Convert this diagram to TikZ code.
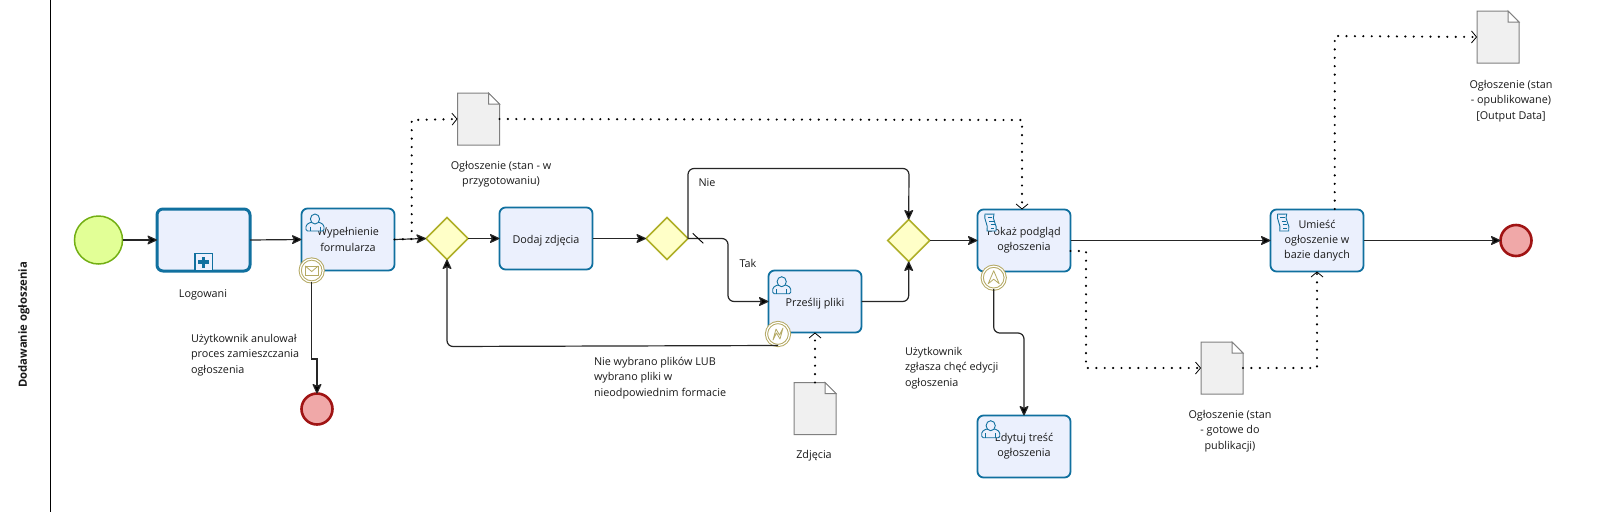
\documentclass[tikz,border=0pt]{standalone}
\usepackage{fontspec}
\setmainfont{Open Sans}
\usetikzlibrary{shapes.geometric,arrows.meta,calc}
\definecolor{taskfill}{HTML}{EBF0FD}
\definecolor{taskline}{HTML}{10709F}
\definecolor{startfill}{HTML}{E2FF96}
\definecolor{startline}{HTML}{73AF14}
\definecolor{gatefill}{HTML}{FFFFC8}
\definecolor{gateline}{HTML}{AFAF28}
\definecolor{endfill}{HTML}{F0A8A8}
\definecolor{endline}{HTML}{A01414}
\definecolor{bdline}{HTML}{B4A964}
\definecolor{docfill}{HTML}{F0F0F0}
\definecolor{docline}{HTML}{808080}
\tikzset{
  lbl/.style={font=\fontsize{10.8}{15.3}\selectfont,inner sep=0pt,outer sep=0pt,text=black!90},
  lblc/.style={lbl,align=center},
  lbll/.style={lbl,align=left,anchor=west},
  task/.style={draw=taskline,fill=taskfill,line width=1.8pt,rounded corners=6pt,minimum width=93pt,minimum height=62pt,inner sep=0pt,outer sep=0pt,align=center,font=\fontsize{10.8}{15.3}\selectfont,text=black!90,execute at begin node={\rule{0pt}{13.5pt}}},
  subproc/.style={task,line width=3pt,minimum height=62pt},
  startev/.style={circle,draw=startline,fill=startfill,line width=1.5pt,minimum size=48pt,inner sep=0pt,outer sep=0pt},
  endev/.style={circle,draw=endline,fill=endfill,line width=2.6pt,minimum size=31pt,inner sep=0pt,outer sep=0pt},
  gate/.style={diamond,aspect=1,draw=gateline,fill=gatefill,line width=1.6pt,minimum width=42pt,minimum height=42pt,inner sep=0pt,outer sep=0pt},
  bdev/.style={circle,draw=bdline,fill=white,line width=1pt,double=white,double distance=1.2pt,minimum size=23pt,inner sep=0pt,outer sep=0pt},
  docbox/.style={minimum width=42pt,minimum height=52pt,inner sep=0pt,outer sep=0pt},
  flow/.style={draw=black!85,line width=1.2pt,rounded corners=6pt,-{Stealth[length=11pt,width=10pt,inset=2.5pt,round=false,fill=black]}},
  assoc/.style={draw=black,line width=2.4pt,line cap=round,dash pattern=on 0pt off 8.4pt,-{Straight Barb[length=5pt,width=12pt,line width=.8pt,line cap=butt]}},
  icon/.style={draw=taskline,line width=.9pt,fill=taskfill},
  bdicon/.style={draw=bdline,line width=.8pt,fill=white},
}
\newcommand{\usericon}[2]{\begin{scope}[shift={(#1,#2)}]
  \path[icon,rounded corners=1.5pt] (0,17) -- (0,11) -- (5,8) -- (13,8) -- (18,11) -- (18,17) -- cycle;
  \draw[icon] (4,12.5) -- (4,17) (14,12.5) -- (14,17);
  \path[icon] (9,5) ellipse (4.6 and 5);
  \end{scope}}
\newcommand{\scripticon}[2]{\begin{scope}[shift={(#1,#2)}]
  \path[icon] (0,0) .. controls (3,1.2) and (6,-.8) .. (9,0) .. controls (6,5) and (13,11) .. (11,17) .. controls (8,18) and (5,16) .. (2,17) .. controls (4,11) and (-2,5) .. (0,0) -- cycle;
  \draw[taskline,line width=.8pt] (2.5,3.5)--(7,3.5) (4,7)--(8.5,7) (5.5,10.5)--(9.5,10.5) (5.5,14)--(9,14);
  \end{scope}}
\newcommand{\docshape}[1]{\path[draw=docline,fill=docfill,line width=1pt]
  (#1.north west) -- ($(#1.north east)+(-11,0)$) -- ($(#1.north east)+(0,11)$) -- (#1.south east) -- (#1.south west) -- cycle;
  \path[draw=docline,fill=white,line width=1pt] ($(#1.north east)+(-11,0)$) -- ($(#1.north east)+(-11,11)$) -- ($(#1.north east)+(0,11)$) -- cycle;}
\begin{document}
\begin{tikzpicture}[x=1pt,y=-1pt]
\useasboundingbox (0,0) rectangle (1598,512);
\fill[white] (0,0) rectangle (1598,512);
\coordinate (ptop) at (50.5,0);
\coordinate (pbot) at (50.5,512);
\draw[black,line width=1pt] (ptop) -- (pbot);
\node[lbl,rotate=90,font=\fontsize{11.3}{13}\bfseries] (pool) at (24,325) {Dodawanie ogłoszenia};

% events
\node[startev] (start) at (98.5,240) {};
\node[endev] (end1) at (317,409) {};
\node[endev] (end2) at (1516,240.5) {};

% tasks
\node[subproc] (sub) at (203.5,240) {};
\node[task] (wyp) at (348,239.5) {Wypełnienie\\formularza};
\node[task] (dodaj) at (546,238.5) {Dodaj zdjęcia};
\node[task] (przes) at (815,301.5) {Prześlij pliki};
\node[task] (pokaz) at (1024,240.5) {Pokaż podgląd\\ogłoszenia};
\node[task] (umiesc) at (1317,240.5) {Umieść\\ogłoszenie w\\bazie danych};
\node[task] (edytuj) at (1024,446.5) {Edytuj treść\\ogłoszenia};

% gateways
\node[gate] (g1) at (447,238.5) {};
\node[gate] (g2) at (667,238.5) {};
\node[gate] (g3) at (908.7,240.5) {};

% data objects
\node[docbox] (d1) at (478.5,119) {};
\node[docbox] (d2) at (1498,37) {};
\node[docbox] (d3) at (815,408.5) {};
\node[docbox] (d4) at (1222,368) {};
\docshape{d1}\docshape{d2}\docshape{d3}\docshape{d4}

% sequence flows
\coordinate (r1) at (909,168.5);
\coordinate (r0) at (688,168.5);
\coordinate (t1) at (728,238.5);
\coordinate (t2) at (728,301.5);
\coordinate (b1) at (447,346.5);
\coordinate (e1a) at (311.7,359);
\coordinate (e1b) at (317,359);
\coordinate (e2a) at (993.7,333);
\coordinate (e2b) at (1024,333);
\draw[flow] (start.east) -- (sub.west);
\draw[flow] (sub.east) -- (wyp.west);
\draw[flow] (wyp.east) -- (g1.west);
\draw[flow] (g1.east) -- (dodaj.west);
\draw[flow] (dodaj.east) -- (g2.west);
\draw[flow] (g2.east) -- (r0) -- (r1) -- (g3.north);
\draw[flow] (g2.east) -- (t1) -- (t2) -- (przes.west);
\draw[flow] (przes.east) -| (g3.south);
\draw[flow] (g3.east) -- (pokaz.west);
\draw[flow] (pokaz.east) -- (umiesc.west);
\draw[flow] (umiesc.east) -- (end2.west);

% boundary events
\node[bdev] (bd1) at (311.7,270.5) {};
\node[bdev] (bd2) at (778,334) {};
\node[bdev] (bd3) at (993.7,277.7) {};
\draw[flow,rounded corners=0pt] (bd1.south) -- (e1a) -- (e1b) -- (end1.north);
\draw[flow] (bd2.south) -- (b1) -- (g1.south);
\draw[flow] (bd3.south) -- (e2a) -- (e2b) -- (edytuj.north);

% boundary icons
\begin{scope}[shift={(bd1)}]
  \path[bdicon] (-6.5,-4.5) rectangle (6.5,4.5);
  \draw[bdline,line width=.8pt] (-6.5,-4.5) -- (0,1) -- (6.5,-4.5);
\end{scope}
\begin{scope}[shift={(bd2)}]
  \draw[bdline,line width=.8pt,fill=white,line join=round] (-5,6) -- (-2,-5) -- (1.5,1) -- (5,-6) -- (2,5) -- (-1.5,-1) -- cycle;
\end{scope}
\begin{scope}[shift={(bd3)}]
  \draw[bdline,line width=.8pt,fill=white,line join=round] (-5.5,6) -- (0,-7) -- (5.5,6) -- (0,1.5) -- cycle;
\end{scope}

% task icons
\usericon{306}{214}
\usericon{772.7}{276.7}
\usericon{981.7}{420.7}
\scripticon{985}{214}
\scripticon{1277.7}{214}

% subprocess marker
\coordinate (mk) at (203.6,262);
\path[draw=taskline,fill=taskfill,line width=1.3pt] ($(mk)+(-8.7,-8.7)$) rectangle ($(mk)+(8.7,9)$);
\fill[taskline] ($(mk)+(-1.6,-5.5)$) rectangle ($(mk)+(1.6,5.5)$);
\fill[taskline] ($(mk)+(-5.5,-1.6)$) rectangle ($(mk)+(5.5,1.6)$);

% default-flow slash
\coordinate (s1) at (692.7,233.3);
\coordinate (s2) at (703.3,243.3);
\draw[black,line width=.9pt] (s1) -- (s2);

% data associations
\coordinate (a1) at (411.7,239);
\coordinate (a2) at (411.7,120);
\coordinate (a3) at (1022,120);
\coordinate (a4) at (1086,251);
\coordinate (a5) at (1086,368);
\coordinate (a6) at (1317,368);
\coordinate (a7) at (1334.7,36);
\coordinate (a8) at (1334.7,209);
\draw[assoc] (wyp.east) -- (a1) -- (a2) -- (d1.west);
\draw[assoc] (d1.east) -- (a3) -- (1022,209.5);
\draw[assoc] (pokaz.east |- a4) -- (a4) -- (a5) -- (d4.west);
\draw[assoc] (d4.east) -- (a6) -- (umiesc.south);
\draw[assoc] (a8) -- (a7) -- (d2.west);
\draw[assoc] (d3.north) -- (przes.south);

% labels
\node[lblc] (lLog) at (203,295) {Logowani};
\node[lbll] (lAnul) at (191,355) {Użytkownik anulował\\proces zamieszczania\\ogłoszenia};
\node[lblc] (lD1) at (501,174.5) {Ogłoszenie (stan - w\\przygotowaniu)};
\node[lblc] (lNie) at (707,183) {Nie};
\node[lblc] (lTak) at (748,263) {Tak};
\node[lbll] (lNw) at (594,378) {Nie wybrano plików LUB\\wybrano pliki w\\nieodpowiednim formacie};
\node[lblc] (lZd) at (814,456) {Zdjęcia};
\node[lbll] (lUz) at (905,368) {Użytkownik\\zgłasza chęć edycji\\ogłoszenia};
\node[lblc] (lD4) at (1230,431) {Ogłoszenie (stan\\- gotowe do\\publikacji)};
\node[lblc] (lD2) at (1511,101) {Ogłoszenie (stan\\- opublikowane)\\{[}Output Data{]}};
\end{tikzpicture}
\end{document}
